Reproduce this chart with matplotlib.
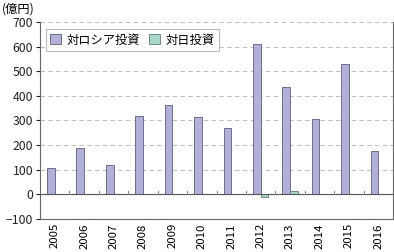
import matplotlib
matplotlib.use("Agg")
import matplotlib.pyplot as plt
import numpy as np

plt.rcParams['font.family'] = ['Noto Sans CJK JP', 'DejaVu Sans']

# Data (unit: 100 million yen)
years = ['2005', '2006', '2007', '2008', '2009', '2010',
         '2011', '2012', '2013', '2014', '2015', '2016']
to_russia = [106, 188, 118, 317, 364, 314, 269, 609, 437, 306, 531, 178]
to_japan = [0, 0, 0, 1, 1, 0, 0, -12, 12, 1, 0, 2]

fig = plt.figure(figsize=(3.94, 2.52), dpi=100)
ax = fig.add_axes([0.1015, 0.131, 0.896, 0.782])

x = np.arange(len(years))
w = 0.26
ax.bar(x - w / 2, to_russia, w, color='#b0b0d8', edgecolor='#6e6e8a',
       linewidth=0.7, label='対ロシア投資', zorder=3)
ax.bar(x + w / 2, to_japan, w, color='#a8d8cc', edgecolor='#6e8a84',
       linewidth=0.7, label='対日投資', zorder=3)

ax.set_ylim(-100, 700)
ax.set_xlim(-0.5, len(years) - 0.5)
ax.set_yticks(range(-100, 701, 100))
ax.yaxis.grid(True, linestyle=(0, (4, 3)), color='#c0c0c0', linewidth=0.8, zorder=0)
ax.axhline(0, color='#555555', linewidth=0.8, zorder=4)

ax.set_xticks(x)
ax.set_xticklabels(years, rotation=90)
ax.tick_params(axis='x', length=0, labelsize=8.2, pad=3)
ax.tick_params(axis='y', length=3, labelsize=8.8, pad=2, colors='#222222')

# small tick marks on the zero line between categories
for b in np.arange(0.5, len(years) - 0.5, 1):
    ax.plot([b, b], [0, 14], color='#888888', linewidth=0.8, zorder=4)

for side in ['left', 'bottom', 'right']:
    ax.spines[side].set_color('#666666')
    ax.spines[side].set_linewidth(0.8)
ax.spines['top'].set_visible(False)

leg = ax.legend(loc='upper left', bbox_to_anchor=(0.01, 0.975), ncol=2,
                fontsize=8.8, frameon=True, fancybox=False, shadow=False,
                handlelength=0.9, handleheight=0.9, handletextpad=0.4,
                columnspacing=0.8, borderpad=0.35, borderaxespad=0.2)
leg.get_frame().set_edgecolor('#aaaaaa')
leg.get_frame().set_linewidth(0.8)

fig.text(0.005, 0.99, '(億円)', ha='left', va='top', fontsize=8.8)

fig.savefig('out.png', dpi=100)
